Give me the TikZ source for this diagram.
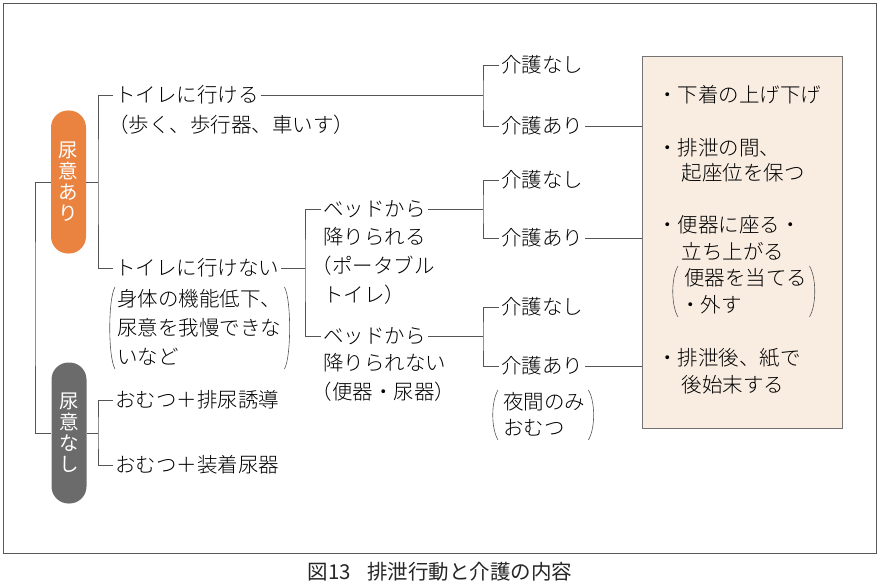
\documentclass[tikz,border=0pt]{standalone}
\usepackage{fontspec}
\setmainfont{Noto Sans CJK JP}[UprightFont={* Light}]
\newfontfamily\jpreg{Noto Sans CJK JP}
\usetikzlibrary{calc}
\definecolor{pillorange}{HTML}{EA8340}
\definecolor{pillgray}{HTML}{6B6B6B}
\definecolor{boxfill}{HTML}{F9EDE2}
\definecolor{linec}{HTML}{555555}
\newcommand\jstrut{\rule[-0.12em]{0pt}{1em}}
\newcommand\parenpair[3]{%
  \draw[conn] ([xshift=-#2]#1.north west) .. controls ([xshift=-#2-7pt,yshift=-12pt]#1.north west) and ([xshift=-#2-7pt,yshift=12pt]#1.south west) .. ([xshift=-#2]#1.south west);
  \draw[conn] ([xshift=#3]#1.north east) .. controls ([xshift=#3+7pt,yshift=-12pt]#1.north east) and ([xshift=#3+7pt,yshift=12pt]#1.south east) .. ([xshift=#3]#1.south east);}
\begin{document}
\begin{tikzpicture}[x=1pt,y=-1pt,
  font=\fontsize{20.5}{29}\selectfont,
  lbl/.style={anchor=west, inner sep=2pt, align=left,
    execute at begin node=\jstrut, execute at end node=\jstrut},
  conn/.style={draw=linec, line width=0.6pt},
  frame/.style={draw=black!65, line width=0.9pt},
  infobox/.style={draw=black!55, line width=0.7pt, fill=boxfill, minimum width=200pt, minimum height=372pt, inner sep=0pt},
  pill/.style={rounded corners=17pt, minimum width=35pt, inner sep=0pt, text=white, align=center, font=\jpreg\fontsize{19.5}{21}\selectfont},
]
\useasboundingbox (0,0) rectangle (883,588);
\draw[frame] (3,3) rectangle (876,553);
\node[infobox] (box) at (742,242) {};

% pills
\node[pill, fill=pillorange, minimum height=143pt] (ari) at (68.5,182) {尿\\意\\あ\\り};
\node[pill, fill=pillgray, minimum height=141pt] (nashi) at (69,433) {尿\\意\\な\\し};

% left labels
\node[lbl] (t1) at (113,95) {トイレに行ける};
\node[lbl] (t1b) at (106,125) {（歩く、歩行器、車いす）};
\node[lbl] (t2) at (113,268) {トイレに行けない};
\node[lbl] (t2b) at (115,328) {身体の機能低下、\\尿意を我慢できな\\いなど};
\node[lbl] (o1) at (113,400) {おむつ＋排尿誘導};
\node[lbl] (o2) at (113,465) {おむつ＋装着尿器};

% middle labels
\node[lbl] (bed1) at (321,209) {ベッドから};
\node[lbl] (bed1b) at (321,266) {降りられる\\\hspace*{-0.55em}（ポータブル\\トイレ）};
\node[lbl] (bed2) at (321,336) {ベッドから};
\node[lbl] (bed2b) at (321,378) {降りられない\\\hspace*{-0.55em}（便器・尿器）};

% care labels
\node[lbl] (k1n) at (499,65) {介護なし};
\node[lbl] (k1a) at (499,126) {介護あり};
\node[lbl] (k2n) at (499,180) {介護なし};
\node[lbl] (k2a) at (499,238) {介護あり};
\node[lbl] (k3n) at (499,307) {介護なし};
\node[lbl] (k3a) at (499,366) {介護あり};
\node[lbl, font=\fontsize{20.5}{26}\selectfont] (night) at (501,415) {夜間のみ\\おむつ};

% box contents
\node[lbl] (c1) at (655,95) {・下着の上げ下げ};
\node[lbl, font=\fontsize{20.5}{25}\selectfont] (c2) at (655,160.5) {・排泄の間、\\\hspace*{1.2em}起座位を保つ};
\node[lbl, font=\fontsize{20.5}{27}\selectfont] (c3) at (655,238.5) {・便器に座る・\\\hspace*{1.2em}立ち上がる};
\node[lbl, font=\fontsize{20.5}{27}\selectfont] (c3b) at (678,291.5) {\hspace*{0.2em}便器を当てる\\・外す};
\node[lbl, font=\fontsize{20.5}{27}\selectfont] (c4) at (655,371.5) {・排泄後、紙で\\\hspace*{1.2em}後始末する};

% caption
\node[font=\jpreg\fontsize{20.5}{24}\selectfont, text=black!85] (cap) at (440,572) {図13\hspace{0.8em}排泄行動と介護の内容};

% junctions
\coordinate (j0) at (35,300);
\coordinate (j1) at (98,182);
\coordinate (j2) at (98,433);
\coordinate (j3) at (305,268);
\coordinate (b1) at (483,95);
\coordinate (b2) at (483,209);
\coordinate (b3) at (483,336);

% connectors
\draw[conn] (ari.west) -| (j0) |- (nashi.west);
\draw[conn] (ari.east) -- (j1);
\draw[conn] (t1.west) -| (j1) |- (t2.west);
\draw[conn] (nashi.east) -- (j2);
\draw[conn] (o1.west) -| (j2) |- (o2.west);
\draw[conn] (t1.east) -- (b1);
\draw[conn] (k1n.west) -| (b1) |- (k1a.west);
\draw[conn] (k1a.east) -- (k1a.east -| box.west);
\draw[conn] (t2.east) -- (j3);
\draw[conn] (bed1.west) -| (j3) |- (bed2.west);
\draw[conn] (bed1.east) -- (b2);
\draw[conn] (k2n.west) -| (b2) |- (k2a.west);
\draw[conn] (k2a.east) -- (k2a.east -| box.west);
\draw[conn] (bed2.east) -- (b3);
\draw[conn] (k3n.west) -| (b3) |- (k3a.west);
\draw[conn] (k3a.east) -- (k3a.east -| box.west);

% parentheses
\parenpair{t2b}{0pt}{1pt}
\parenpair{night}{3pt}{1pt}
\parenpair{c3b}{0pt}{0pt}
\end{tikzpicture}
\end{document}
